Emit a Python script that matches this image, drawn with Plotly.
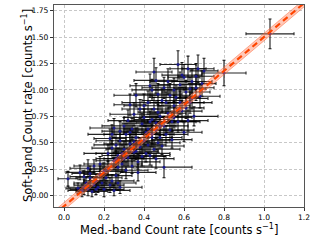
import plotly.graph_objects as go

# data points (Med.-band rate, Soft-band rate) with 1-sigma errors
med_rate = [0.02, 0.07, 0.09, 0.10, 0.11, 0.12, 0.13, 0.14, 0.15, 0.16,
            0.17, 0.18, 0.19, 0.20, 0.21, 0.22, 0.23, 0.24, 0.25, 0.08,
            0.12, 0.15, 0.18, 0.20, 0.10, 0.13, 0.16, 0.26, 0.28, 0.27,
            0.22, 0.23, 0.24, 0.25, 0.26, 0.27, 0.28, 0.29, 0.30, 0.31,
            0.32, 0.33, 0.34, 0.35, 0.36, 0.37, 0.38, 0.39, 0.40, 0.30,
            0.28, 0.32, 0.35, 0.33, 0.36, 0.38, 0.40, 0.25, 0.27, 0.31,
            0.34, 0.37, 0.39, 0.29, 0.35, 0.30, 0.36, 0.33, 0.24, 0.26,
            0.41, 0.42, 0.43, 0.44, 0.45, 0.46, 0.47, 0.48, 0.49, 0.50,
            0.51, 0.52, 0.53, 0.54, 0.55, 0.42, 0.44, 0.45, 0.46, 0.47,
            0.43, 0.48, 0.50, 0.52, 0.41, 0.43, 0.45, 0.46, 0.48, 0.40,
            0.42, 0.44, 0.47, 0.49, 0.51, 0.53, 0.54, 0.55, 0.44, 0.46,
            0.56, 0.57, 0.58, 0.59, 0.60, 0.61, 0.62, 0.63, 0.64, 0.65,
            0.66, 0.67, 0.68, 0.70, 0.57, 0.60, 0.62, 0.58, 0.64, 0.66,
            0.55, 0.59, 0.61, 0.63, 0.69, 0.50, 0.80, 1.03]
soft_rate = [0.16, 0.07, 0.05, 0.08, 0.12, 0.06, 0.17, 0.04, 0.10, 0.14,
             0.08, 0.20, 0.12, 0.06, 0.17, 0.25, 0.10, 0.14, 0.05, 0.22,
             0.26, 0.28, 0.30, 0.23, 0.18, 0.21, 0.06, 0.19, 0.08, 0.12,
             0.40, 0.54, 0.45, 0.33, 0.48, 0.38, 0.52, 0.30, 0.44, 0.58,
             0.36, 0.49, 0.63, 0.41, 0.55, 0.32, 0.46, 0.68, 0.52, 0.66,
             0.61, 0.71, 0.77, 0.86, 0.95, 0.82, 0.74, 0.64, 0.27, 0.24,
             0.28, 0.22, 0.37, 0.40, 0.51, 0.35, 0.42, 0.60, 0.58, 0.35,
             0.60, 0.48, 0.70, 0.55, 0.82, 0.62, 0.50, 0.75, 0.90, 0.66,
             0.58, 0.78, 0.95, 0.70, 0.85, 0.88, 1.00, 1.17, 1.09, 0.96,
             1.04, 0.66, 1.02, 1.08, 0.40, 0.38, 0.44, 0.35, 0.55, 0.85,
             0.63, 0.72, 0.79, 0.47, 0.88, 0.62, 0.53, 0.74, 0.58, 0.69,
             0.93, 1.24, 1.05, 0.80, 1.12, 0.98, 1.20, 0.88, 1.08, 0.75,
             1.02, 1.20, 0.94, 1.18, 0.70, 0.60, 0.71, 0.88, 0.92, 1.13,
             1.00, 1.14, 0.83, 1.01, 1.06, 0.27, 1.16, 1.53]
med_err = [0.05, 0.06, 0.07, 0.08, 0.06, 0.09, 0.07, 0.08, 0.10, 0.06,
           0.09, 0.08, 0.07, 0.10, 0.08, 0.09, 0.07, 0.11, 0.08, 0.07,
           0.09, 0.10, 0.08, 0.11, 0.07, 0.09, 0.10, 0.08, 0.11, 0.09,
           0.12, 0.08, 0.10, 0.09, 0.11, 0.08, 0.12, 0.10, 0.09, 0.11,
           0.08, 0.13, 0.10, 0.09, 0.12, 0.11, 0.08, 0.10, 0.13, 0.11,
           0.09, 0.10, 0.12, 0.08, 0.11, 0.09, 0.10, 0.12, 0.08, 0.11,
           0.10, 0.09, 0.12, 0.13, 0.08, 0.10, 0.11, 0.09, 0.12, 0.10,
           0.11, 0.09, 0.12, 0.10, 0.08, 0.13, 0.11, 0.09, 0.10, 0.12,
           0.11, 0.09, 0.10, 0.12, 0.08, 0.13, 0.10, 0.09, 0.11, 0.12,
           0.10, 0.08, 0.11, 0.09, 0.12, 0.10, 0.13, 0.09, 0.11, 0.10,
           0.12, 0.09, 0.10, 0.11, 0.08, 0.12, 0.10, 0.09, 0.11, 0.10,
           0.12, 0.09, 0.11, 0.10, 0.08, 0.12, 0.09, 0.11, 0.10, 0.12,
           0.09, 0.08, 0.10, 0.07, 0.11, 0.09, 0.10, 0.12, 0.08, 0.09,
           0.11, 0.10, 0.09, 0.08, 0.07, 0.14, 0.11, 0.12]
soft_err = [0.07, 0.05, 0.06, 0.07, 0.05, 0.06, 0.08, 0.05, 0.07, 0.06,
            0.05, 0.08, 0.06, 0.07, 0.06, 0.08, 0.07, 0.06, 0.05, 0.07,
            0.08, 0.06, 0.07, 0.08, 0.06, 0.07, 0.05, 0.08, 0.06, 0.07,
            0.08, 0.09, 0.07, 0.08, 0.10, 0.07, 0.09, 0.08, 0.07, 0.10,
            0.08, 0.09, 0.10, 0.08, 0.09, 0.07, 0.08, 0.10, 0.09, 0.08,
            0.09, 0.10, 0.11, 0.10, 0.11, 0.09, 0.08, 0.09, 0.07, 0.08,
            0.07, 0.08, 0.09, 0.08, 0.09, 0.07, 0.08, 0.10, 0.09, 0.08,
            0.09, 0.08, 0.10, 0.09, 0.11, 0.08, 0.09, 0.10, 0.11, 0.09,
            0.08, 0.10, 0.11, 0.09, 0.10, 0.11, 0.10, 0.13, 0.12, 0.10,
            0.11, 0.09, 0.10, 0.12, 0.08, 0.09, 0.08, 0.09, 0.10, 0.11,
            0.09, 0.10, 0.11, 0.08, 0.10, 0.09, 0.08, 0.10, 0.09, 0.10,
            0.11, 0.13, 0.12, 0.10, 0.12, 0.11, 0.12, 0.10, 0.11, 0.09,
            0.12, 0.13, 0.11, 0.12, 0.10, 0.09, 0.10, 0.11, 0.10, 0.12,
            0.11, 0.12, 0.10, 0.11, 0.12, 0.10, 0.12, 0.14]

# best-fit relation and its uncertainty band
fit_x = [-0.05, 1.25]
fit_slope = 1.6
fit_intercept = -0.1
band_half = 0.035

x_ticks = [0.0, 0.2, 0.4, 0.6, 0.8, 1.0, 1.2]
y_ticks = [0.0, 0.25, 0.5, 0.75, 1.0, 1.25, 1.5, 1.75]
x_title = "Med.-band Count rate [counts s<sup>−1</sup>]"
y_title = "Soft-band Count rate [counts s<sup>−1</sup>]"

fit_y = [fit_slope * v + fit_intercept for v in fit_x]
fit_lo = [v - band_half for v in fit_y]
fit_hi = [v + band_half for v in fit_y]

fig = go.Figure()
fig.add_trace(go.Scatter(
    x=med_rate, y=soft_rate, mode="markers",
    marker=dict(color="#1a1a8c", size=3, line=dict(width=0)),
    error_x=dict(type="data", array=med_err, color="rgba(0,0,0,0.85)", thickness=1.1, width=1.5),
    error_y=dict(type="data", array=soft_err, color="rgba(0,0,0,0.9)", thickness=1.1, width=1.5),
    showlegend=False))
fig.add_trace(go.Scatter(x=fit_x, y=fit_lo, mode="lines",
                         line=dict(color="rgba(255,99,50,0.6)", width=0.8), showlegend=False))
fig.add_trace(go.Scatter(x=fit_x, y=fit_hi, mode="lines", fill="tonexty",
                         fillcolor="rgba(255,120,80,0.4)",
                         line=dict(color="rgba(255,99,50,0.6)", width=0.8), showlegend=False))
fig.add_trace(go.Scatter(x=fit_x, y=fit_y, mode="lines",
                         line=dict(color="#ff4500", width=2.2, dash="6px,4px"), showlegend=False))

axis_common = dict(showline=True, linecolor="#555555", linewidth=1, mirror=True,
                   showgrid=True, gridcolor="#c8c8c8", griddash="3px,2px", gridwidth=0.8,
                   ticks="outside", ticklen=3, tickcolor="#333333", zeroline=False,
                   automargin=False,
                   tickfont=dict(family="DejaVu Sans", size=7.6, color="#000000"))
fig.update_xaxes(range=[-0.05, 1.2], tickvals=x_ticks, tickformat=".1f", **axis_common)
fig.update_yaxes(range=[-0.107, 1.803], tickvals=y_ticks, tickformat=".2f", **axis_common)

title_font = dict(family="DejaVu Sans", size=11.5, color="#000000")
fig.add_annotation(text=x_title, xref="paper", yref="paper", x=0.5, y=0,
                   yshift=-22, xanchor="center", yanchor="middle",
                   showarrow=False, font=title_font)
fig.add_annotation(text=y_title, xref="paper", yref="paper", x=0, y=0.5,
                   xshift=-27, xanchor="center", yanchor="middle", textangle=-90,
                   showarrow=False, font=title_font)

fig.update_layout(width=320, height=240, margin=dict(l=54, r=16, t=5, b=33, autoexpand=False),
                  paper_bgcolor="white", plot_bgcolor="white")
fig.write_html("out.html", config={"displayModeBar": False},
               post_script="document.body.style.margin='0';document.body.style.padding='0';")
